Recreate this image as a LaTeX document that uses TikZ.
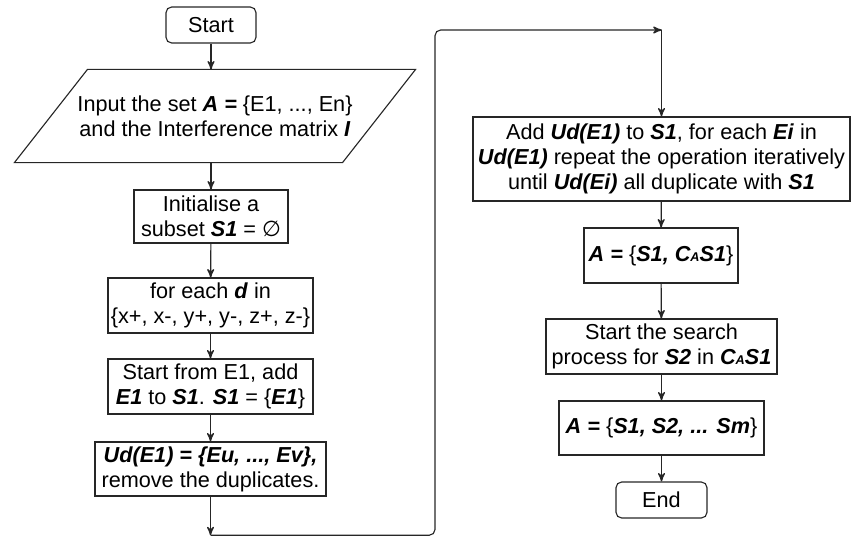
\documentclass[tikz,border=0pt]{standalone}
\usepackage{fontspec}
\setmainfont{Liberation Sans}
\newfontfamily\symfont{DejaVu Sans}
\usetikzlibrary{arrows}
\usetikzlibrary{decorations.markings}
\tikzset{flow/.style = {decoration={markings,
                                    mark=at position 1 with {\arrow[scale=1.2]{stealth'}}},
                        postaction={decorate}}}
\tikzset{box/.style = {draw, align=center, inner sep=1pt, font=\fontsize{15.4}{17.8}\selectfont}}
\tikzset{term/.style = {box, rounded corners=4pt}}
\newcommand{\bi}[1]{\textbf{\textit{#1}}}

\begin{document}
\begin{tikzpicture}[line width=0.8pt, draw=black!85]
      \useasboundingbox (0, 0) rectangle (21.275, -13.425);

      % left column
      \node [term, minimum width=2.25cm, minimum height=0.9cm] (start) at (5.275, -0.625) {Start};
      \node [box, draw=none, minimum width=8.175cm, minimum height=2.3cm] (input) at (5.375, -2.9)
            {Input the set \bi{A =} \{E1, ..., En\}\\and the Interference matrix \bi{I}};
      \draw ([xshift=0.9125cm]input.north west) -- ([xshift=0.9125cm]input.north east)
         -- ([xshift=-0.9125cm]input.south east) -- ([xshift=-0.9125cm]input.south west) -- cycle;
      \node [box, minimum width=3.85cm, minimum height=1.325cm] (init) at (5.275, -5.4125)
            {Initialise a\\subset \bi{S1} = {\symfont\itshape ∅}};
      \node [box, minimum width=5.125cm, minimum height=1.375cm] (dir) at (5.2625, -7.6375)
            {for each \bi{d} in\\\{x+, x-, y+, y-, z+, z-\}};
      \node [box, minimum width=5.125cm, minimum height=1.375cm] (first) at (5.2625, -9.6625)
            {Start from E1, add\\\bi{E1} to \bi{S1}. \bi{S1} = \{\bi{E1}\}};
      \node [box, minimum width=5.775cm, minimum height=1.35cm] (ud) at (5.2625, -11.725)
            {\bi{Ud(E1) = \{Eu, ..., Ev\},}\\remove the duplicates.};

      \coordinate (bot) at (5.2625, -13.38);
      \coordinate (turn) at (10.875, -0.75);
      \coordinate (top) at (16.5375, -0.75);

      % right column
      \node [box, minimum width=9.425cm, minimum height=2.1cm] (add) at (16.5375, -3.975)
            {Add \bi{Ud(E1)} to \bi{S1}, for each \bi{Ei} in\\\bi{Ud(E1)} repeat the operation iteratively\\until \bi{Ud(Ei)} all duplicate with \bi{S1}};
      \node [box, minimum width=3.85cm, minimum height=1.375cm] (split) at (16.525, -6.3875)
            {\bi{A =} \{\bi{S1, C{\small A}S1}\}};
      \node [box, minimum width=5.775cm, minimum height=1.375cm] (search) at (16.5375, -8.6625)
            {Start the search\\process for \bi{S2} in \bi{C{\small A}S1}};
      \node [box, minimum width=5.125cm, minimum height=1.35cm] (result) at (16.5375, -10.7)
            {\bi{A =} \{\bi{S1, S2, ... Sm}\}};
      \node [term, minimum width=2.275cm, minimum height=0.9cm] (end) at (16.5375, -12.5) {End};

      \draw [flow] (start) -- (start |- input.north);
      \draw [flow] (input.south -| init) -- (init);
      \draw [flow] (init) -- (dir);
      \draw [flow] (dir) -- (first);
      \draw [flow] (first) -- (ud);
      \draw [flow] (ud) -- (bot);
      \draw [flow, rounded corners=4pt] (bot) -| (turn) -- (top);
      \draw [flow] (top) -- (add);
      \draw [flow] (add) -- (split);
      \draw [flow] (split) -- (search);
      \draw [flow] (search) -- (result);
      \draw [flow] (result) -- (end);
    \end{tikzpicture}
\end{document}
